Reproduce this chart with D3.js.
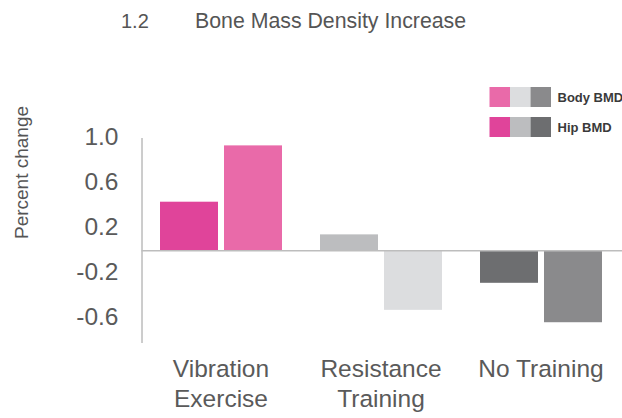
<!DOCTYPE html>
<html>
<head>
<meta charset="utf-8">
<script src="https://cdn.jsdelivr.net/npm/d3@7"></script>
<style>
  html, body { margin: 0; padding: 0; background: #fff; }
  svg { display: block; }
</style>
</head>
<body>
<svg id="chart" width="622" height="418"></svg>
<script>
// ---- data ----
const categories = ["Vibration Exercise", "Resistance Training", "No Training"];
const categoryLines = [["Vibration", "Exercise"], ["Resistance", "Training"], ["No Training"]];
const seriesNames = ["Hip BMD", "Body BMD"];
const hipBMD = [0.43, 0.14, -0.29];
const bodyBMD = [0.93, -0.53, -0.64];
const hipColors = ["#e0449a", "#bcbdbf", "#6d6e70"];
const bodyColors = ["#e96aa9", "#dcdddf", "#8a8a8c"];
const tickValues = [1.0, 0.6, 0.2, -0.2, -0.6];
const tickLabels = ["1.0", "0.6", "0.2", "-0.2", "-0.6"];
const legendRows = [
  { label: "Body BMD", colors: bodyColors },
  { label: "Hip BMD", colors: hipColors }
];

const svg = d3.select("#chart");
const font = "'Liberation Sans', Arial, Helvetica, sans-serif";

// ---- scales ----
const x0 = d3.scaleBand().domain(categories).range([160, 602]).paddingInner(0.2375).paddingOuter(0);
const x1 = d3.scaleBand().domain(seriesNames).range([0, x0.bandwidth()]).paddingInner(0.094).paddingOuter(0);
const y = d3.scaleLinear().domain([-0.82, 1.0]).range([342.5, 137.5]);

// ---- title ----
svg.append("text").attr("x", 121).attr("y", 28)
  .attr("font-family", font).attr("font-size", 20).attr("fill", "#555").text("1.2");
svg.append("text").attr("x", 195).attr("y", 28)
  .attr("font-family", font).attr("font-size", 21.3).attr("fill", "#555").text("Bone Mass Density Increase");

// ---- y axis title ----
svg.append("text")
  .attr("transform", "translate(28,172.5) rotate(-90)")
  .attr("text-anchor", "middle")
  .attr("font-family", font).attr("font-size", 19).attr("fill", "#555")
  .text("Percent change");

// ---- y axis ----
const yAxis = d3.axisLeft(y).tickValues(tickValues)
  .tickFormat((d, i) => tickLabels[i]).tickSize(0).tickPadding(23);
const gy = svg.append("g").attr("transform", "translate(141.5,0)").call(yAxis);
gy.select(".domain").attr("stroke", "#9a9a9a").attr("stroke-width", 1);
gy.selectAll("text")
  .attr("font-family", font).attr("font-size", 24.5).attr("fill", "#5a5a5a")
  .attr("dy", "0.28em");

// ---- bars ----
const rows = categories.map((c, i) => ({
  cat: c,
  vals: [
    { s: "Hip BMD", v: hipBMD[i], color: hipColors[i] },
    { s: "Body BMD", v: bodyBMD[i], color: bodyColors[i] }
  ]
}));

const groups = svg.append("g").selectAll("g").data(rows).join("g")
  .attr("transform", d => `translate(${x0(d.cat)},0)`);
groups.selectAll("rect").data(d => d.vals).join("rect")
  .attr("x", d => x1(d.s))
  .attr("width", x1.bandwidth())
  .attr("y", d => Math.min(y(d.v), y(0)))
  .attr("height", d => Math.abs(y(d.v) - y(0)))
  .attr("fill", d => d.color);

// ---- zero line ----
svg.append("line")
  .attr("x1", 141.5).attr("x2", 622)
  .attr("y1", y(0) + 0.5).attr("y2", y(0) + 0.5)
  .attr("stroke", "#bdbdbd").attr("stroke-width", 1.5);

// ---- category labels ----
const labels = svg.append("g").selectAll("text").data(categories).join("text")
  .attr("text-anchor", "middle")
  .attr("font-family", font).attr("font-size", 24.5).attr("fill", "#5a5a5a")
  .attr("x", d => x0(d) + x0.bandwidth() / 2)
  .attr("y", 377);
labels.each(function (d, i) {
  const t = d3.select(this);
  categoryLines[i].forEach((line, j) => {
    t.append("tspan")
      .attr("x", x0(d) + x0.bandwidth() / 2)
      .attr("y", 377 + j * 30)
      .text(line);
  });
});

// ---- legend ----
const lg = svg.append("g").attr("transform", "translate(489.5,87)");
const lrow = lg.selectAll("g").data(legendRows).join("g")
  .attr("transform", (d, i) => `translate(0,${i * 30})`);
lrow.selectAll("rect").data(d => d.colors).join("rect")
  .attr("x", (d, i) => i * 20.5).attr("y", 0)
  .attr("width", 20.5).attr("height", 20)
  .attr("fill", d => d);
lrow.append("text")
  .attr("x", 68).attr("y", 15)
  .attr("font-family", font).attr("font-size", 13).attr("font-weight", "bold")
  .attr("fill", "#3a3a3a")
  .text(d => d.label);
</script>
</body>
</html>
